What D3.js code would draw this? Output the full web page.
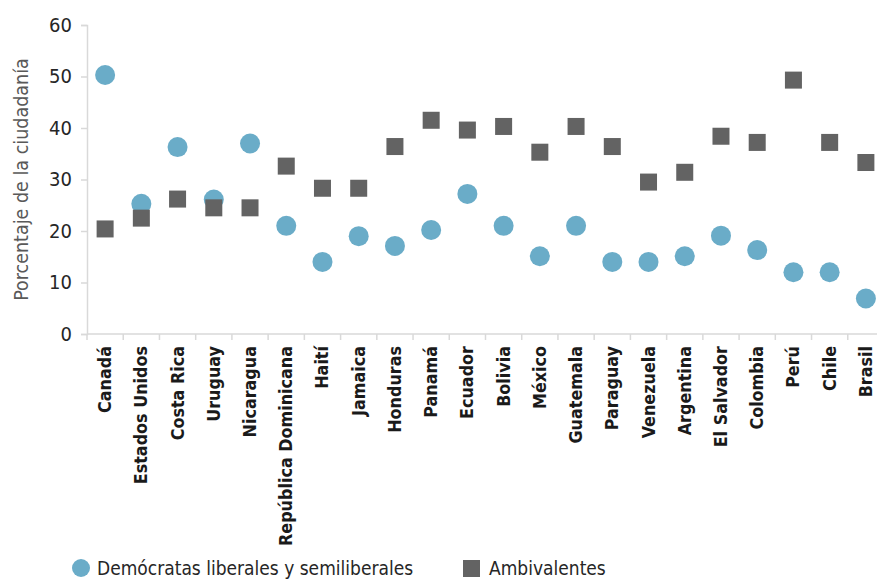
<!DOCTYPE html>
<html>
<head>
<meta charset="utf-8">
<script src="https://cdn.jsdelivr.net/npm/d3@7"></script>
<style>
  body { margin: 0; background: #fff; }
  svg { display: block; }
  .y-axis text { font-family: "DejaVu Sans Condensed", sans-serif; font-size: 20px; fill: #262626; }
  .x-axis text { font-family: "DejaVu Sans Condensed", sans-serif; font-size: 17.8px; font-weight: bold; fill: #1a1a1a; }
  .title { font-family: "DejaVu Sans Condensed", sans-serif; font-size: 19.5px; fill: #595959; }
  .legend text { font-family: "DejaVu Sans Condensed", sans-serif; font-size: 19px; fill: #262626; }
</style>
</head>
<body>
<svg width="877" height="579"></svg>
<script>
const countries = ["Canadá", "Estados Unidos", "Costa Rica", "Uruguay", "Nicaragua",
    "República Dominicana", "Haití", "Jamaica", "Honduras", "Panamá", "Ecuador",
    "Bolivia", "México", "Guatemala", "Paraguay", "Venezuela", "Argentina",
    "El Salvador", "Colombia", "Perú", "Chile", "Brasil"];

const democratas = [50.3, 25.3, 36.3, 26.1, 37.0, 21.0, 14.0, 19.0, 17.1, 20.2, 27.2,
    21.0, 15.1, 21.0, 14.0, 14.0, 15.1, 19.1, 16.3, 12.0, 12.0, 6.9];

const ambivalentes = [20.4, 22.5, 26.2, 24.5, 24.5, 32.6, 28.3, 28.3, 36.4, 41.5, 39.6,
    40.3, 35.3, 40.3, 36.4, 29.5, 31.4, 38.4, 37.2, 49.3, 37.2, 33.3];

const yTicks = [0, 10, 20, 30, 40, 50, 60];

const seriesNames = ["Demócratas liberales y semiliberales", "Ambivalentes"];
const colors = {dem: "#6aacc8", amb: "#636363"};

const svg = d3.select("svg");

const x = d3.scaleBand()
    .domain(countries)
    .range([87, 884]);

const y = d3.scaleLinear()
    .domain([0, 60])
    .range([334, 25]);

// y axis
const yAxis = svg.append("g")
    .attr("class", "y-axis")
    .attr("transform", "translate(87,0)")
    .call(d3.axisLeft(y).tickValues(yTicks).tickSize(6).tickPadding(9));
yAxis.select(".domain").attr("stroke", "#d9d9d9").attr("stroke-width", 1.5);
yAxis.selectAll(".tick line").attr("stroke", "#d9d9d9").attr("stroke-width", 1.5);

// x axis, ticks on band boundaries
const xAxis = svg.append("g")
    .attr("class", "x-axis")
    .attr("transform", "translate(0,334)");
xAxis.append("line")
    .attr("x1", 87).attr("x2", 884)
    .attr("stroke", "#d9d9d9").attr("stroke-width", 1.5);
xAxis.selectAll(".bound")
    .data(countries.concat([null]))
    .join("line")
    .attr("class", "bound")
    .attr("x1", (d, i) => 87 + i * x.step())
    .attr("x2", (d, i) => 87 + i * x.step())
    .attr("y1", 0).attr("y2", 6)
    .attr("stroke", "#d9d9d9").attr("stroke-width", 1.5);
xAxis.selectAll("text")
    .data(countries)
    .join("text")
    .attr("transform", d => `translate(${x(d) + x.bandwidth() / 2 + 6},12) rotate(-90)`)
    .attr("text-anchor", "end")
    .text(d => d);

// y axis title
svg.append("text")
    .attr("class", "title")
    .attr("transform", `translate(28,${y(30)}) rotate(-90)`)
    .attr("text-anchor", "middle")
    .text("Porcentaje de la ciudadanía");

// marks
const cx = i => x(countries[i]) + x.bandwidth() / 2;
const sq = 17;

svg.append("g")
    .selectAll("circle")
    .data(democratas)
    .join("circle")
    .attr("cx", (d, i) => cx(i))
    .attr("cy", d => y(d))
    .attr("r", 10)
    .attr("fill", colors.dem);

svg.append("g")
    .selectAll("rect")
    .data(ambivalentes)
    .join("rect")
    .attr("x", (d, i) => cx(i) - sq / 2)
    .attr("y", d => y(d) - sq / 2)
    .attr("width", sq)
    .attr("height", sq)
    .attr("fill", colors.amb);

// legend
const legend = svg.append("g").attr("class", "legend");
legend.append("circle")
    .attr("cx", 81).attr("cy", 568).attr("r", 9)
    .attr("fill", colors.dem);
legend.append("text")
    .attr("x", 97).attr("y", 575)
    .text(seriesNames[0]);
legend.append("rect")
    .attr("x", 463).attr("y", 560).attr("width", 17).attr("height", 17)
    .attr("fill", colors.amb);
legend.append("text")
    .attr("x", 489).attr("y", 575)
    .text(seriesNames[1]);
</script>
</body>
</html>
